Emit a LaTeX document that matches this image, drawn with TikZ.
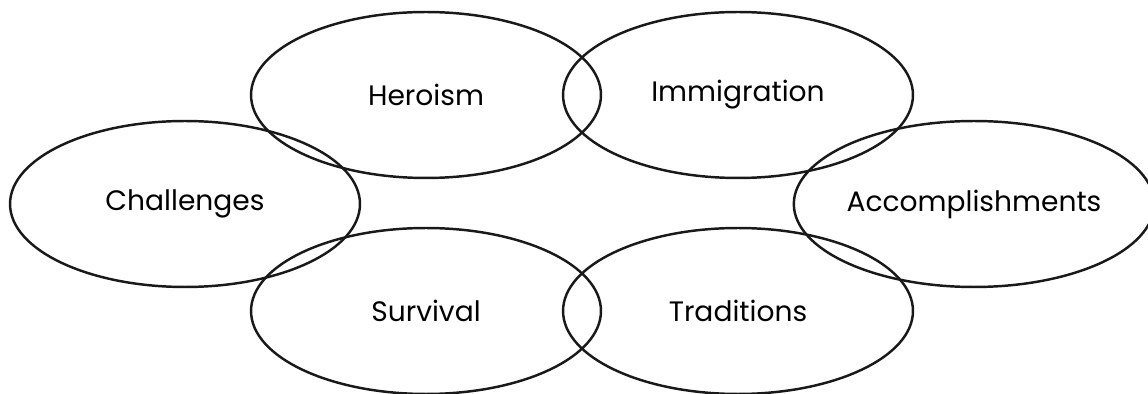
\documentclass[tikz,border=0pt]{standalone}
\usepackage{fontspec}
\setmainfont{Poppins}
\usetikzlibrary{shapes.geometric}

\begin{document}
\begin{tikzpicture}[
    x=0.02cm, y=-0.02cm,
    bubble/.style={ellipse, draw=black!90, line width=1.4pt, inner sep=0pt,
        minimum width=7cm, minimum height=3.32cm, font=\fontsize{16}{18}\selectfont}
]
    \useasboundingbox (0,0) rectangle (1148,394);
    % Top row
    \node[bubble] (heroism) at (426,95) {Heroism};
    \node[bubble] (immigration) at (738,95) {Immigration};
    % Middle row
    \node[bubble] (challenges) at (185,204) {Challenges};
    \node[bubble] (accomplishments) at (974,204) {Accomplishments};
    % Bottom row
    \node[bubble] (survival) at (426,311) {Survival};
    \node[bubble] (traditions) at (738,311) {Traditions};
\end{tikzpicture}
\end{document}
